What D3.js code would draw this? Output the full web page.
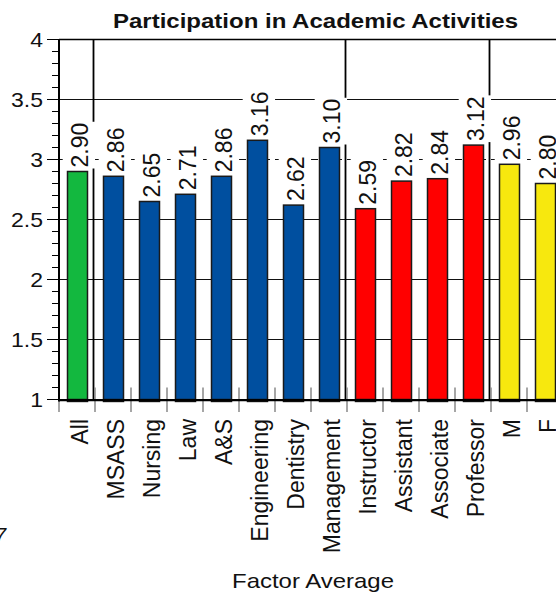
<!DOCTYPE html>
<html>
<head>
<meta charset="utf-8">
<script src="https://cdn.jsdelivr.net/npm/d3@7"></script>
<style>
  body { margin: 0; background: #fff; }
  svg { display: block; font-family: "Liberation Sans", Arial, sans-serif; }
</style>
</head>
<body>
<svg id="chart" width="556" height="594"></svg>
<script>
// data
const categories = ["All", "MSASS", "Nursing", "Law", "A&S", "Engineering", "Dentistry",
                    "Management", "Instructor", "Assistant", "Associate", "Professor", "M", "F"];
const values = [2.90, 2.86, 2.65, 2.71, 2.86, 3.16, 2.62, 3.10, 2.59, 2.82, 2.84, 3.12, 2.96, 2.80];
const groups = ["All", "School", "School", "School", "School", "School", "School",
                "School", "Rank", "Rank", "Rank", "Rank", "Gender", "Gender"];
const groupNames = ["All", "School", "Rank", "Gender"];
const groupColors = ["#13b83f", "#004f9f", "#ff0000", "#f7e80e"];
const groupStarts = ["MSASS", "Instructor", "M"];
const yTicks = [1, 1.5, 2, 2.5, 3, 3.5, 4];
const yTickLabels = ["1", "1.5", "2", "2.5", "3", "3.5", "4"];
const yMinor = d3.range(10, 41).map(d => d / 10);

const title = "Participation in Academic Activities";
const xLabel = "Factor Average";

const plotLeft = 59, plotTop = 39.5, plotBottom = 399.5, step = 36;

let x = d3.scaleBand().domain(categories).range([plotLeft, plotLeft + step * categories.length])
let y = d3.scaleLinear().domain([1, 4]).range([plotBottom, plotTop])
let color = d3.scaleOrdinal().domain(groupNames).range(groupColors)

let svg = d3.select("#chart")

// grid lines
svg.append("g").selectAll("line")
    .data(yTicks.filter(d => d > 1 && d < 4))
    .enter().append("line")
    .attr("x1", plotLeft).attr("x2", 600)
    .attr("y1", d => y(d)).attr("y2", d => y(d))
    .attr("stroke", "#111").attr("stroke-width", 1)
    .attr("stroke-dasharray", d => d === 3 ? "7,5" : null)

// top border
svg.append("line").attr("x1", plotLeft).attr("x2", 600).attr("y1", plotTop).attr("y2", plotTop)
    .attr("stroke", "#000").attr("stroke-width", 1.5)

// group separators
svg.append("g").selectAll("line")
    .data(groupStarts)
    .enter().append("line")
    .attr("x1", d => x(d) - 1.5).attr("x2", d => x(d) - 1.5)
    .attr("y1", plotTop).attr("y2", plotBottom + 1)
    .attr("stroke", "#000").attr("stroke-width", 1.8)

// x ticks (gray, crossing the axis)
svg.append("g").selectAll("line")
    .data(categories)
    .enter().append("line")
    .attr("x1", d => x(d)).attr("x2", d => x(d))
    .attr("y1", plotBottom - 12).attr("y2", plotBottom + 12.5)
    .attr("stroke", "#888").attr("stroke-width", 1.5)

// bars
let bars = svg.append("g")
bars.selectAll("rect")
    .data(values)
    .enter().append("rect")
    .attr("x", (d, i) => x(categories[i]) + 8.5)
    .attr("width", 20)
    .attr("y", d => y(d))
    .attr("height", d => y(1) - y(d))
    .attr("fill", (d, i) => color(groups[i]))
    .attr("stroke", "#1a1a1a").attr("stroke-width", 1.5)

// x axis line + thick bar bottoms
svg.append("line").attr("x1", plotLeft).attr("x2", 600).attr("y1", plotBottom + 0.7).attr("y2", plotBottom + 0.7)
    .attr("stroke", "#000").attr("stroke-width", 2.2)
bars.selectAll(".base")
    .data(values)
    .enter().append("rect").attr("class", "base")
    .attr("x", (d, i) => x(categories[i]) + 7.75)
    .attr("width", 21.5)
    .attr("y", plotBottom - 0.3).attr("height", 3)
    .attr("fill", "#111")

// value labels with white boxes
let vl = svg.append("g").selectAll("g")
    .data(values)
    .enter().append("g")
    .attr("transform", (d, i) => `translate(${x(categories[i]) + 20},${y(d) - 4}) rotate(-90) scale(1,1.08)`)
vl.append("text")
    .attr("dy", "0.35em")
    .style("font-size", "23px")
    .attr("fill", "#111")
    .text(d => d.toFixed(2))
vl.each(function () {
    let g = d3.select(this)
    let bb = g.select("text").node().getBBox()
    g.insert("rect", "text")
        .attr("x", bb.x - 1).attr("y", bb.y - 2)
        .attr("width", bb.width + 2).attr("height", bb.height + 4)
        .attr("fill", "#fff")
})

// y axis
svg.append("line").attr("x1", plotLeft).attr("x2", plotLeft).attr("y1", plotTop - 0.5).attr("y2", plotBottom + 2)
    .attr("stroke", "#000").attr("stroke-width", 2)
svg.append("g").selectAll("line")
    .data(yMinor)
    .enter().append("line")
    .attr("x1", d => yTicks.includes(d) ? plotLeft - 12 : plotLeft - 7).attr("x2", plotLeft)
    .attr("y1", d => y(d)).attr("y2", d => y(d))
    .attr("stroke", "#000").attr("stroke-width", 1)
svg.append("g").selectAll("text")
    .data(yTicks)
    .enter().append("text")
    .attr("transform", d => `translate(43,${y(d)}) scale(1.15,1)`)
    .attr("dy", "0.35em")
    .attr("text-anchor", "end")
    .style("font-size", "20px")
    .attr("fill", "#111")
    .text((d, i) => yTickLabels[i])

// category labels
svg.append("g").selectAll("text")
    .data(categories)
    .enter().append("text")
    .attr("transform", d => `translate(${x(d) + 20},419) rotate(-90) scale(1,1.08)`)
    .attr("dy", "0.35em")
    .attr("text-anchor", "end")
    .style("font-size", "23px")
    .attr("fill", "#111")
    .text(d => d)

// title and axis title
svg.append("text")
    .attr("x", 315.5).attr("y", 28)
    .attr("text-anchor", "middle")
    .attr("textLength", 405).attr("lengthAdjust", "spacingAndGlyphs")
    .style("font-size", "21px").style("font-weight", "bold")
    .attr("fill", "#111")
    .text(title)
svg.append("text")
    .attr("x", 313).attr("y", 588)
    .attr("text-anchor", "middle")
    .attr("textLength", 162).attr("lengthAdjust", "spacingAndGlyphs")
    .style("font-size", "21px")
    .attr("fill", "#111")
    .text(xLabel)

// clipped fragment at left edge
svg.append("text")
    .attr("x", -5).attr("y", 542)
    .style("font-size", "20px").style("font-style", "italic")
    .attr("fill", "#111")
    .text("7")
</script>
</body>
</html>
